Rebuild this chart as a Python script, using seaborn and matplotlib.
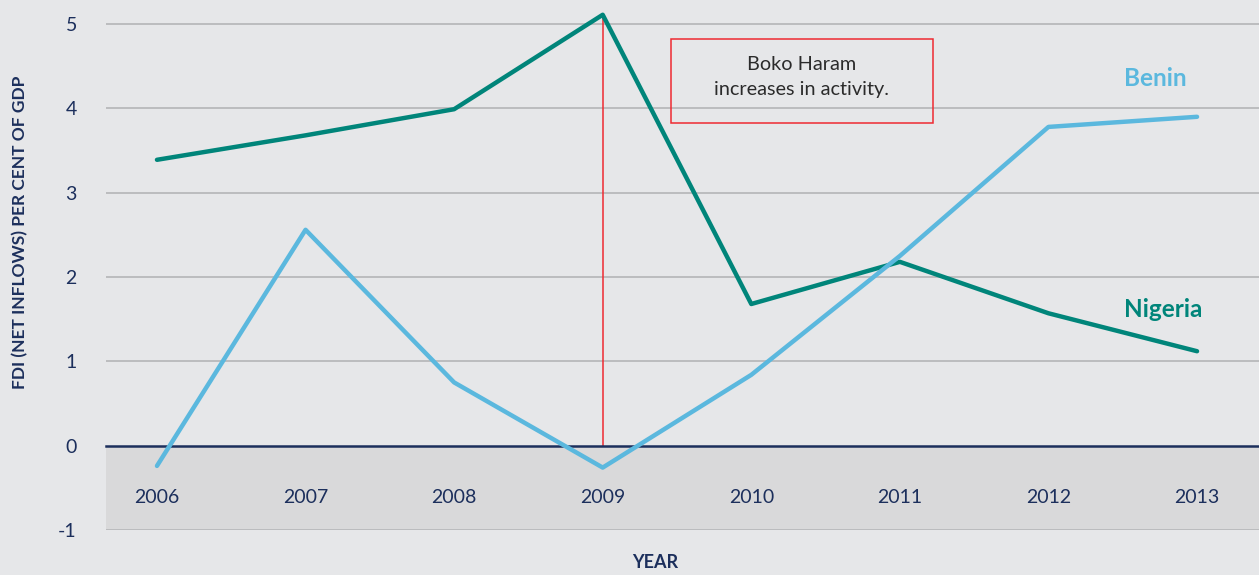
import matplotlib
matplotlib.use("Agg")
import matplotlib.pyplot as plt
import seaborn as sns
import pandas as pd
from matplotlib.patches import Rectangle

years = [2006, 2007, 2008, 2009, 2010, 2011, 2012, 2013]
nigeria = [3.39, 3.68, 3.99, 5.11, 1.68, 2.18, 1.57, 1.12]
benin = [-0.24, 2.56, 0.75, -0.26, 0.84, 2.25, 3.78, 3.90]
y_ticks = [-1, 0, 1, 2, 3, 4, 5]

df = pd.DataFrame({
    "year": years * 2,
    "value": nigeria + benin,
    "country": ["Nigeria"] * len(years) + ["Benin"] * len(years),
})

sns.set_theme(style="white")
plt.rcParams["font.family"] = ["Lato", "DejaVu Sans"]

BG = "#e6e7e9"
BAND = "#d9d9da"
NAVY = "#1c2f5c"
TEAL = "#00857a"
BLUE = "#5bb8de"
GRID = "#b8b9bb"
RED = "#ee2a32"

fig = plt.figure(figsize=(12.59, 5.75), dpi=100, facecolor=BG)
ax = fig.add_axes([106 / 1259, 45 / 575, 1 - 106 / 1259, 530 / 575])
ax.set_facecolor(BG)

ax.set_xlim(2005.657, 2013.417)
ax.set_ylim(-1, 5.285)
ax.axhspan(-1, 0, color=BAND, zorder=0, lw=0)
for t in y_ticks:
    if t != 0:
        ax.axhline(t, color=GRID, lw=1.3, zorder=1)

sns.lineplot(data=df, x="year", y="value", hue="country",
             palette={"Nigeria": TEAL, "Benin": BLUE}, lw=3.2,
             legend=False, ax=ax, zorder=3, solid_capstyle="round")

for s in ["top", "right", "left"]:
    ax.spines[s].set_visible(False)
ax.spines["bottom"].set_position(("data", 0))
ax.spines["bottom"].set_color(NAVY)
ax.spines["bottom"].set_linewidth(1.8)
ax.spines["bottom"].set_zorder(2)

ax.set_xticks(years)
ax.set_xticklabels([str(y) for y in years])
ax.tick_params(axis="x", direction="out", length=7, width=1.8, color=NAVY,
               labelcolor=NAVY, labelsize=14, pad=24)
ax.set_yticks(y_ticks)
ax.set_yticklabels([str(t) for t in y_ticks])
ax.tick_params(axis="y", length=0, labelcolor=NAVY, labelsize=14, pad=21)
ax.set_xlabel("")
ax.set_ylabel("")

# Red vertical marker at 2009
ax.plot([2009, 2009], [0, nigeria[3]], color=RED, lw=1.1, zorder=2)

# Annotation box
ax.add_patch(Rectangle((2009.46, 3.83), 1.763, 0.99, fill=False,
                       edgecolor=RED, lw=1.1, zorder=4))
ax.text(2010.34, 4.37, "Boko Haram\nincreases in activity.", ha="center",
        va="center", fontsize=14.3, color="#2b2b2b", linespacing=1.55, zorder=5)

ax.text(2012.72, 4.36, "Benin", color=BLUE, fontsize=17.5, fontweight="bold",
        ha="center", va="center")
ax.text(2012.77, 1.61, "Nigeria", color=TEAL, fontsize=17.5, fontweight="bold",
        ha="center", va="center")

fig.text(20 / 1259, 1 - 232 / 575, "FDI (NET INFLOWS) PER CENT OF GDP",
         rotation=90, ha="center", va="center", color=NAVY, fontsize=12.5,
         fontweight="bold")
fig.text(655 / 1259, 1 - 563 / 575, "YEAR", ha="center", va="center",
         color=NAVY, fontsize=13, fontweight="bold")

fig.savefig("out.png", dpi=100, facecolor=BG)
